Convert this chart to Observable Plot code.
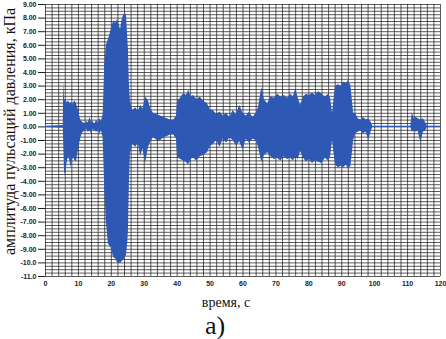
<!DOCTYPE html>
<html>
<head>
<meta charset="utf-8">
<script src="https://cdn.jsdelivr.net/npm/d3@7"></script>
<script src="https://cdn.jsdelivr.net/npm/@observablehq/plot@0.6"></script>
<style>
  html, body { margin: 0; padding: 0; background: #fff; }
</style>
</head>
<body>
<div id="chart"></div>
<script>
// time, s (knots)
const time = [
  0, 5.4, 5.5, 5.8, 6.2, 6.6, 7.0, 7.4, 7.8, 8.2, 8.6, 9.0, 9.4, 9.8, 10.2, 10.6, 11.0,
  11.5, 12, 12.5, 13, 13.5, 14, 14.5, 15, 15.5, 16, 16.5, 17, 17.5,
  17.6, 18.0, 18.5, 19.1, 19.6, 20.0, 20.7, 21.3, 21.9, 22.4, 22.8, 23.3, 23.7, 24.2, 24.6, 25.0, 25.2, 25.5, 25.8,
  26.5, 27.4, 28.2, 28.9, 29.6, 30.4, 31.3, 32.0, 32.8, 34.0, 35.0, 36.0, 37.0, 38.0, 39.0,
  39.8, 40.1, 41.0, 42.0, 42.8, 43.5, 44.2, 45.0, 46.0, 47.0, 48.0, 49.2, 50.2,
  51, 52, 53, 54, 55, 56, 57, 58, 59, 60, 61, 62, 63, 64,
  64.7, 65.7, 66.5, 67.5, 68.5, 69.5, 70.5, 71.5, 72.5, 73.5, 74.5, 75.3, 76.0, 76.8, 77.5,
  78.4, 79.3, 80.2, 81.1, 82.0, 83.0, 84.0, 85.0, 86.0, 86.6, 87.2,
  88.1, 89.0, 89.8, 90.6, 91.4, 92.0, 92.8, 93.6,
  94.2, 95.0, 95.8, 96.6, 97.4, 98.2, 99.0, 99.4,
  111.0, 111.4, 112.0, 112.6, 113.2, 114.0, 114.8, 115.5, 116.0, 120
];
// upper envelope of the pressure pulsation, kPa
const upper = [
  0.05, 0.1, 3.3, 2.0, 1.9, 1.8, 1.9, 1.7, 1.8, 1.6, 1.8, 1.9, 1.7, 1.4, 1.0, 0.6, 0.4,
  0.3, 0.2, 0.4, 0.3, 0.7, 0.3, 0.4, 0.2, 0.5, 0.3, 0.6, 0.4, 0.9,
  1.5, 4.5, 6.0, 6.4, 6.8, 7.2, 7.8, 7.6, 7.9, 7.5, 7.1, 7.9, 8.2, 8.4, 8.2, 6.5, 5.6, 3.0, 1.9,
  1.2, 1.4, 1.1, 1.6, 1.3, 2.2, 1.9, 1.3, 1.0, 0.9, 0.8, 0.7, 0.6, 0.5, 0.5,
  0.8, 1.9, 2.1, 2.45, 2.3, 2.7, 2.2, 2.3, 2.0, 2.2, 1.9, 1.7, 1.2,
  1.2, 0.9, 1.1, 0.8, 1.0, 0.7, 1.2, 0.9, 1.6, 1.0, 0.8, 1.1, 0.7, 1.0,
  1.4, 2.9, 2.0, 1.7, 2.2, 2.1, 2.4, 2.2, 2.3, 2.1, 2.4, 2.2, 2.8, 2.1, 1.6,
  2.2, 2.4, 2.3, 2.5, 2.3, 2.6, 2.4, 2.2, 2.4, 2.1, 1.0,
  3.0, 3.1, 3.0, 3.3, 3.2, 3.4, 3.0, 1.0,
  1.0, 0.6, 0.5, 0.7, 0.5, 0.6, 0.3, 0.05,
  0.05, 1.05, 0.6, 0.7, 0.6, 0.5, 0.6, 0.3, 0.05, 0.05
];
// lower envelope of the pressure pulsation, kPa
const lower = [
  -0.05, -0.1, -1.0, -3.5, -3.3, -2.6, -2.2, -2.5, -3.0, -2.4, -2.3, -2.5, -2.6, -2.0, -1.4, -1.0, -0.6,
  -0.4, -0.3, -0.2, -0.4, -0.3, -0.5, -0.2, -0.3, -0.4, -0.3, -0.5, -0.3, -0.8,
  -1.5, -4.5, -7.0, -8.6, -8.8, -8.9, -9.6, -9.7, -10.0, -10.0, -10.05, -9.9, -9.8, -9.6, -9.45, -8.5, -7.6, -4.0, -2.0,
  -1.3, -1.5, -1.2, -2.2, -1.6, -2.7, -1.5, -1.1, -0.8, -1.0, -1.0, -0.8, -0.7, -0.6, -0.6,
  -0.9, -2.2, -2.4, -2.5, -2.6, -2.8, -2.4, -2.3, -2.5, -2.2, -2.1, -1.9, -1.4,
  -1.3, -1.0, -1.5, -0.9, -1.2, -0.8, -1.0, -1.4, -1.1, -1.7, -0.9, -1.2, -0.9, -1.0,
  -1.5, -2.6, -2.1, -1.9, -2.2, -2.4, -2.3, -2.5, -2.2, -2.4, -2.3, -2.5, -2.2, -2.4, -1.8,
  -2.3, -2.6, -2.4, -2.7, -2.5, -2.6, -2.7, -2.3, -2.5, -2.2, -1.0,
  -2.8, -3.0, -2.9, -3.0, -2.8, -3.1, -2.9, -1.0,
  -0.5, -0.4, -0.3, -0.5, -0.4, -1.0, -0.3, -0.05,
  -0.05, -0.4, -0.3, -0.4, -0.3, -1.15, -0.4, -0.3, -0.05, -0.05
];

const xTicks = [0, 10, 20, 30, 40, 50, 60, 70, 80, 90, 100, 110, 120];
const yTicks = [9, 8, 7, 6, 5, 4, 3, 2, 1, 0, -1, -2, -3, -4, -5, -6, -7, -8, -9, -10, -11];
const yTickLabels = ["9.00", "8.00", "7.00", "6.00", "5.00", "4.00", "3.00", "2.00", "1.00", "0.00",
  "-1.00", "-2.00", "-3.00", "-4.00", "-5.00", "-6.00", "-7.00", "-8.00", "-9.00", "-10.0", "-11.0"];

const yLabel = "амплитуда пульсаций давления, кПа";
const xLabel = "время, с";
const panelLabel = "а)";

const data = time.map((t, i) => ({t, hi: upper[i], lo: lower[i]}));

const blue = "#2d58b3";
const gridColor = "#1a1a1a";

const chart = Plot.plot({
  width: 446,
  height: 339,
  marginLeft: 45,
  marginRight: 6,
  marginTop: 4,
  marginBottom: 63,
  style: {fontFamily: "Liberation Sans, Arial, sans-serif", background: "#fff"},
  x: {domain: [0, 120]},
  y: {domain: [-11, 9]},
  marks: [
    Plot.ruleY(d3.range(-11, 9.001, 0.25), {stroke: gridColor, strokeWidth: 0.8, strokeOpacity: 0.9}),
    Plot.ruleX(d3.range(0, 120.001, 2), {stroke: gridColor, strokeWidth: 0.8, strokeOpacity: 0.9}),
    Plot.areaY(data, {x: "t", y1: "lo", y2: "hi", fill: blue, curve: "linear"}),
    Plot.axisY({
      ticks: yTicks,
      tickFormat: d => yTickLabels[yTicks.indexOf(d)],
      tickSize: 7,
      tickPadding: 2,
      fontSize: 7,
      fontWeight: "bold",
      label: null,
      stroke: "#222",
      fill: "#222"
    }),
    Plot.axisX({
      ticks: xTicks,
      tickSize: 0,
      tickPadding: 5,
      fontSize: 7,
      fontWeight: "bold",
      label: null,
      fill: "#222"
    }),
    Plot.text([yLabel], {
      frameAnchor: "left", rotate: -90, dx: -36, dy: -9, textAnchor: "middle",
      fontSize: 16, fontFamily: "Liberation Serif, Times New Roman, serif", fill: "#111"
    }),
    Plot.text([xLabel], {
      frameAnchor: "bottom", dx: -17, dy: 30, textAnchor: "middle",
      fontSize: 14, fontFamily: "Liberation Serif, Times New Roman, serif", fill: "#111"
    }),
    Plot.text([panelLabel], {
      frameAnchor: "bottom", dx: -28, dy: 57, textAnchor: "middle",
      fontSize: 26, fontFamily: "Liberation Serif, Times New Roman, serif", fill: "#111"
    })
  ]
});

document.getElementById("chart").appendChild(chart);
</script>
</body>
</html>
